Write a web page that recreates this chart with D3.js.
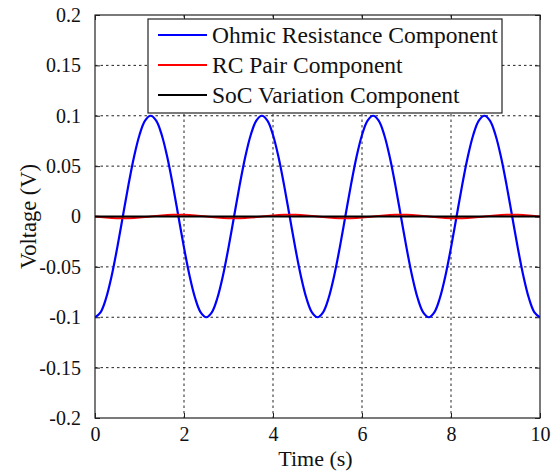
<!DOCTYPE html>
<html><head><meta charset="utf-8">
<script src="https://cdn.jsdelivr.net/npm/d3@7"></script>
<style>body{margin:0;background:#fff}svg{display:block}text{fill:#111}</style>
</head><body>
<script>
const time = [0,0.125,0.25,0.375,0.5,0.625,0.75,0.875,1,1.125,1.25,1.375,1.5,1.625,1.75,1.875,2,2.125,2.25,2.375,
2.5,2.625,2.75,2.875,3,3.125,3.25,3.375,3.5,3.625,3.75,3.875,4,4.125,4.25,4.375,4.5,4.625,4.75,4.875,
5,5.125,5.25,5.375,5.5,5.625,5.75,5.875,6,6.125,6.25,6.375,6.5,6.625,6.75,6.875,7,7.125,7.25,7.375,
7.5,7.625,7.75,7.875,8,8.125,8.25,8.375,8.5,8.625,8.75,8.875,9,9.125,9.25,9.375,9.5,9.625,9.75,9.875,10];
const ohmic = [-0.1,-0.0951,-0.0809,-0.0588,-0.0309,0,0.0309,0.0588,0.0809,0.0951,0.1,0.0951,0.0809,0.0588,0.0309,0,-0.0309,-0.0588,-0.0809,-0.0951,
-0.1,-0.0951,-0.0809,-0.0588,-0.0309,0,0.0309,0.0588,0.0809,0.0951,0.1,0.0951,0.0809,0.0588,0.0309,0,-0.0309,-0.0588,-0.0809,-0.0951,
-0.1,-0.0951,-0.0809,-0.0588,-0.0309,0,0.0309,0.0588,0.0809,0.0951,0.1,0.0951,0.0809,0.0588,0.0309,0,-0.0309,-0.0588,-0.0809,-0.0951,
-0.1,-0.0951,-0.0809,-0.0588,-0.0309,0,0.0309,0.0588,0.0809,0.0951,0.1,0.0951,0.0809,0.0588,0.0309,0,-0.0309,-0.0588,-0.0809,-0.0951,-0.1];
const rcPair = [0,-0.0006,-0.0011,-0.0015,-0.0017,-0.0018,-0.0017,-0.0015,-0.0011,-0.0006,0,0.0006,0.0011,0.0015,0.0017,0.0018,0.0017,0.0015,0.0011,0.0006,
0,-0.0006,-0.0011,-0.0015,-0.0017,-0.0018,-0.0017,-0.0015,-0.0011,-0.0006,0,0.0006,0.0011,0.0015,0.0017,0.0018,0.0017,0.0015,0.0011,0.0006,
0,-0.0006,-0.0011,-0.0015,-0.0017,-0.0018,-0.0017,-0.0015,-0.0011,-0.0006,0,0.0006,0.0011,0.0015,0.0017,0.0018,0.0017,0.0015,0.0011,0.0006,
0,-0.0006,-0.0011,-0.0015,-0.0017,-0.0018,-0.0017,-0.0015,-0.0011,-0.0006,0,0.0006,0.0011,0.0015,0.0017,0.0018,0.0017,0.0015,0.0011,0.0006,0];
const socTime = [0,10];
const soc = [0,0];
const xTicks = [0,2,4,6,8,10];
const yTicks = [-0.2,-0.15,-0.1,-0.05,0,0.05,0.1,0.15,0.2];
const seriesNames = ["Ohmic Resistance Component","RC Pair Component","SoC Variation Component"];
const seriesColors = ["#0000ff","#ff0000","#000000"];

const W=559,H=475, L=95,R=540,T=15,B=418;
const FONT='"Liberation Serif","Times New Roman",Times,serif';
const svg=d3.select("body").append("svg").attr("width",W).attr("height",H);
const x=d3.scaleLinear().domain([0,10]).range([L,R]);
const y=d3.scaleLinear().domain([-0.2,0.2]).range([B,T]);
const fmt=d=>String(+d.toFixed(2));

// grid
const g=svg.append("g");
g.selectAll(".gx").data(xTicks.slice(1,-1)).enter().append("line")
 .attr("x1",d=>x(d)).attr("x2",d=>x(d)).attr("y1",T).attr("y2",B)
 .attr("stroke","#222").attr("stroke-width",1).attr("stroke-dasharray","2.5,3");
g.selectAll(".gy").data(yTicks.slice(1,-1)).enter().append("line")
 .attr("y1",d=>y(d)).attr("y2",d=>y(d)).attr("x1",L).attr("x2",R)
 .attr("stroke","#222").attr("stroke-width",1).attr("stroke-dasharray","2.5,3");

// axes
const ax=svg.append("g").attr("transform",`translate(0,${B})`).call(d3.axisBottom(x).tickValues(xTicks).tickSizeInner(-5).tickSizeOuter(0).tickPadding(9).tickFormat(fmt));
const axT=svg.append("g").attr("transform",`translate(0,${T})`).call(d3.axisTop(x).tickValues(xTicks).tickSizeInner(-5).tickSizeOuter(0).tickFormat(""));
const ay=svg.append("g").attr("transform",`translate(${L},0)`).call(d3.axisLeft(y).tickValues(yTicks).tickSizeInner(-5).tickSizeOuter(0).tickPadding(14).tickFormat(fmt));
const ayR=svg.append("g").attr("transform",`translate(${R},0)`).call(d3.axisRight(y).tickValues(yTicks).tickSizeInner(-5).tickSizeOuter(0).tickFormat(""));
[ax,axT,ay,ayR].forEach(a=>{a.attr("font-family",FONT).attr("font-size",20);a.selectAll("path").remove();a.selectAll("line").attr("stroke","#222");
 a.selectAll("text").attr("fill","#111");});
svg.append("rect").attr("x",L).attr("y",T).attr("width",R-L).attr("height",B-T).attr("fill","none").attr("stroke","#222").attr("stroke-width",1.2);

// lines
const line=d3.line().x(d=>x(d[0])).y(d=>y(d[1])).curve(d3.curveCatmullRom);
svg.append("clipPath").attr("id","c").append("rect").attr("x",L).attr("y",T).attr("width",R-L).attr("height",B-T);
const pg=svg.append("g").attr("clip-path","url(#c)");
pg.append("path").datum(time.map((t,i)=>[t,ohmic[i]])).attr("d",line).attr("fill","none").attr("stroke",seriesColors[0]).attr("stroke-width",2.2);
pg.append("path").datum(time.map((t,i)=>[t,rcPair[i]])).attr("d",line).attr("fill","none").attr("stroke",seriesColors[1]).attr("stroke-width",2);
pg.append("path").datum(socTime.map((t,i)=>[t,soc[i]])).attr("d",line).attr("fill","none").attr("stroke",seriesColors[2]).attr("stroke-width",2.2);

// legend
const lg=svg.append("g").attr("font-family",FONT);
lg.append("rect").attr("x",148).attr("y",19).attr("width",354).attr("height",94).attr("fill","#fff").attr("stroke","#222").attr("stroke-width",1.2);
seriesNames.forEach((n,i)=>{
 const yy=35+i*30;
 lg.append("line").attr("x1",158).attr("x2",207).attr("y1",yy).attr("y2",yy).attr("stroke",seriesColors[i]).attr("stroke-width",2);
 lg.append("text").attr("x",212).attr("y",yy).attr("dy","0.35em").attr("font-size",23.5).text(n);
});

// labels
svg.append("text").attr("x",(L+R)/2-2).attr("y",466).attr("text-anchor","middle").attr("font-family",FONT).attr("font-size",22).text("Time (s)");
svg.append("text").attr("transform",`translate(36,${(T+B)/2}) rotate(-90)`).attr("text-anchor","middle").attr("font-family",FONT).attr("font-size",22.5).text("Voltage (V)");
</script>
</body></html>
